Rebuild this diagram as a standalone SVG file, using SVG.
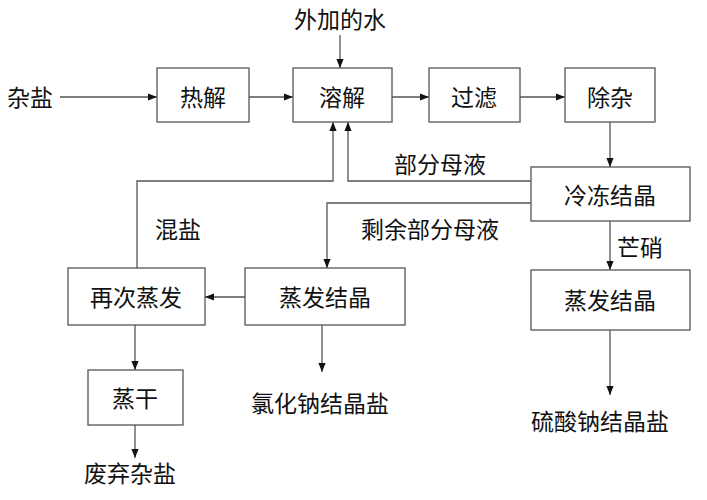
<svg xmlns="http://www.w3.org/2000/svg" width="707" height="500" viewBox="0 0 707 500">
<style>
.n rect{fill:#fff;stroke:#555;stroke-width:1.3}
text{font-family:"Noto Sans CJK SC",sans-serif;font-size:23px;fill:#111;text-anchor:middle;dominant-baseline:central}
.c path{fill:none;stroke:#555;stroke-width:1.3}
</style>
<defs><marker id="a" viewBox="0 0 10 10" refX="10" refY="5" markerWidth="7" markerHeight="7" orient="auto"><path d="M0,1L10,5L0,9z" fill="#111"/></marker></defs>
<rect width="707" height="500" fill="#fff"/>
<g class="c" marker-end="url(#a)">
<path d="M60,97H157"/>
<path d="M249,97H293"/>
<path d="M392,97H429"/>
<path d="M520,97H565"/>
<path d="M340,35V68"/>
<path d="M610,122V167"/>
<path d="M531,181H348V122"/>
<path d="M137,268V181H333V122"/>
<path d="M531,203H327V268"/>
<path d="M610,221V270"/>
<path d="M610,330V395"/>
<path d="M322,325V372"/>
<path d="M245,297H205"/>
<path d="M135,325V370"/>
<path d="M135,425V458"/>
</g>
<text x="30" y="96">杂盐</text>
<text x="340" y="18">外加的水</text>
<text x="440" y="163">部分母液</text>
<text x="178" y="228">混盐</text>
<text x="430" y="228">剩余部分母液</text>
<text x="640" y="246">芒硝</text>
<text x="320" y="402">氯化钠结晶盐</text>
<text x="600" y="420">硫酸钠结晶盐</text>
<text x="130" y="472">废弃杂盐</text>
<g class="n">
<g id="rj"><rect x="157" y="68" width="92" height="54"/><text x="203" y="96">热解</text></g>
<g id="rjj"><rect x="293" y="68" width="99" height="54"/><text x="342" y="96">溶解</text></g>
<g id="gl"><rect x="429" y="68" width="91" height="54"/><text x="474" y="96">过滤</text></g>
<g id="cz"><rect x="565" y="68" width="90" height="54"/><text x="610" y="96">除杂</text></g>
<g id="ld"><rect x="531" y="167" width="159" height="54"/><text x="610" y="194">冷冻结晶</text></g>
<g id="zf2"><rect x="531" y="270" width="159" height="60"/><text x="610" y="299">蒸发结晶</text></g>
<g id="zf1"><rect x="245" y="268" width="160" height="57"/><text x="325" y="296">蒸发结晶</text></g>
<g id="zc"><rect x="68" y="268" width="137" height="57"/><text x="136" y="296">再次蒸发</text></g>
<g id="zg"><rect x="88" y="370" width="95" height="55"/><text x="135" y="397">蒸干</text></g>
</g>
</svg>
